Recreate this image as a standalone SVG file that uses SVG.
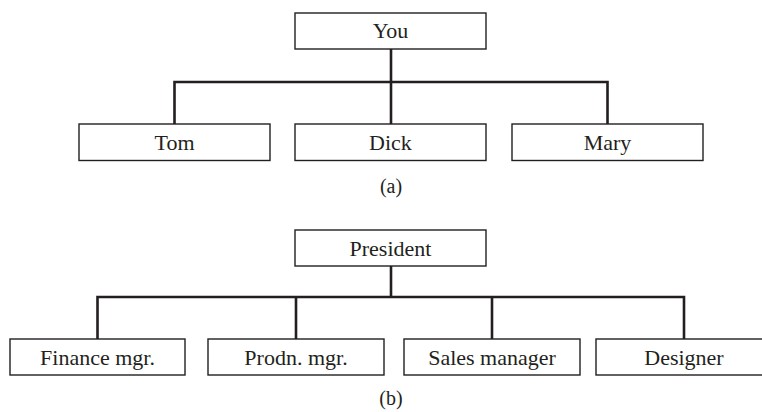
<svg xmlns="http://www.w3.org/2000/svg" width="762" height="412" viewBox="0 0 762 412">
  <style>
    .box { fill: #ffffff; stroke: #231f20; stroke-width: 1.4; }
    text { font-family: "Liberation Serif", "DejaVu Serif", Times, serif; fill: #231f20; text-anchor: middle; }
    .lbl { font-size: 22px; }
    .cap { font-size: 20px; }
    .wire { fill: none; stroke: #231f20; stroke-width: 2.6; stroke-linecap: butt; stroke-linejoin: miter; }
  </style>
  <rect width="762" height="412" fill="#ffffff"/>

  <!-- Connectors -->
  <g id="connectors">
    <!-- tree (a) -->
    <path class="wire" d="M391 49 V124"/>
    <path class="wire" d="M174.5 124 V82 H607.5 V124"/>
    <!-- tree (b) -->
    <path class="wire" d="M391 266 V297"/>
    <path class="wire" d="M97.5 339 V297 H684 V339"/>
    <path class="wire" d="M296 297 V339"/>
    <path class="wire" d="M492 297 V339"/>
  </g>

  <!-- Tree (a) -->
  <g id="you">
    <rect class="box" x="295" y="13" width="191" height="36"/>
    <text class="lbl" x="390.5" y="38" font-family="Liberation Serif, serif">You</text>
  </g>
  <g id="tom">
    <rect class="box" x="79" y="124" width="191" height="36.5"/>
    <text class="lbl" x="174.5" y="150">Tom</text>
  </g>
  <g id="dick">
    <rect class="box" x="295" y="124" width="191" height="36.5"/>
    <text class="lbl" x="390.5" y="150">Dick</text>
  </g>
  <g id="mary">
    <rect class="box" x="512" y="124" width="191" height="36.5"/>
    <text class="lbl" x="607.5" y="150">Mary</text>
  </g>
  <text class="cap" x="391" y="193">(a)</text>

  <!-- Tree (b) -->
  <g id="president">
    <rect class="box" x="295" y="230" width="191" height="36"/>
    <text class="lbl" x="390.5" y="256">President</text>
  </g>
  <g id="finance">
    <rect class="box" x="10" y="339" width="175" height="36"/>
    <text class="lbl" x="97.5" y="364.5">Finance mgr.</text>
  </g>
  <g id="prodn">
    <rect class="box" x="208" y="339" width="176" height="36"/>
    <text class="lbl" x="296" y="364.5">Prodn. mgr.</text>
  </g>
  <g id="sales">
    <rect class="box" x="404" y="339" width="176" height="36"/>
    <text class="lbl" x="492" y="364.5">Sales manager</text>
  </g>
  <g id="designer">
    <rect class="box" x="596" y="339" width="176" height="36"/>
    <text class="lbl" x="684" y="364.5">Designer</text>
  </g>
  <text class="cap" x="391" y="405">(b)</text>
</svg>
